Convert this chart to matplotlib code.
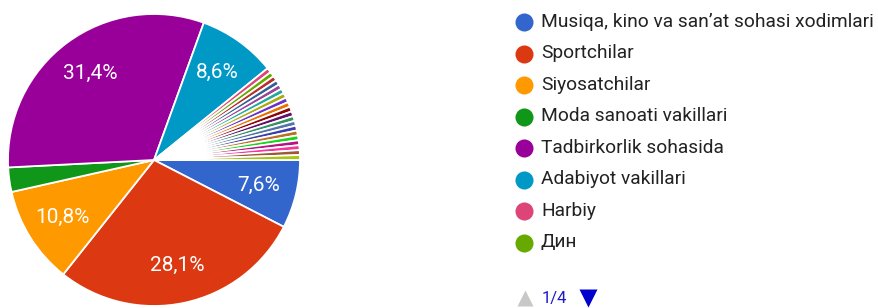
import matplotlib.pyplot as plt

plt.rcParams['font.family'] = ['Roboto', 'DejaVu Sans']

# responses per category (N = 185), in legend order
categories = ['Musiqa, kino va san\u2019at sohasi xodimlari', 'Sportchilar', 'Siyosatchilar',
              'Moda sanoati vakillari', 'Tadbirkorlik sohasida', 'Adabiyot vakillari',
              'Harbiy', '\u0414\u0438\u043d'] + ['other %d' % i for i in range(18)]
counts = [14, 52, 20, 5, 58, 16] + [1] * 20
colors = ['#3366cc', '#dc3912', '#ff9900', '#109618', '#990099', '#0099c6', '#dd4477',
          '#66aa00', '#b82e2e', '#316395', '#994499', '#22aa99', '#aaaa11', '#6633cc',
          '#e67300', '#8b0707', '#651067', '#329262', '#5574a6', '#3b3eac', '#b77322',
          '#16d620', '#b91383', '#f4359e', '#9c5935', '#a9c413']
page_label = '1/4'
shown = 8

W, H = 879, 308
fig = plt.figure(figsize=(W / 100, H / 100), dpi=100)
ax = fig.add_axes([0, 0, 1, 1])


def fmt(p):
    return ('%.1f%%' % p).replace('.', ',') if p > 5 else ''


wedges, texts, autotexts = ax.pie(counts, colors=colors, startangle=0, counterclock=False,
                                  center=(154, H - 160), radius=146, autopct=fmt,
                                  pctdistance=0.74, frame=True,
                                  wedgeprops=dict(edgecolor='white', linewidth=1.3))
for t in autotexts:
    t.set_color('white')
    t.set_fontsize(15)
ax.set_xlim(0, W)
ax.set_ylim(0, H)
ax.set_aspect('equal')
ax.axis('off')

# legend (first page)
y0, dy = 22, 31.5
for i in range(shown):
    y = H - (y0 + i * dy)
    ax.plot(524, y, 'o', ms=13, color=colors[i], mec='none')
    ax.text(541, y, categories[i], fontsize=13.8, color='#222222', va='center', ha='left')

yp = H - 298
ax.plot(525, yp, '^', ms=12, color='#c8c8c8', mec='none')
ax.text(542, yp, page_label, fontsize=12, color='#1a1acc', va='center', ha='left')
ax.plot(588, yp, 'v', ms=13, color='#0000cc', mec='none')

fig.savefig('out.png', dpi=100)
